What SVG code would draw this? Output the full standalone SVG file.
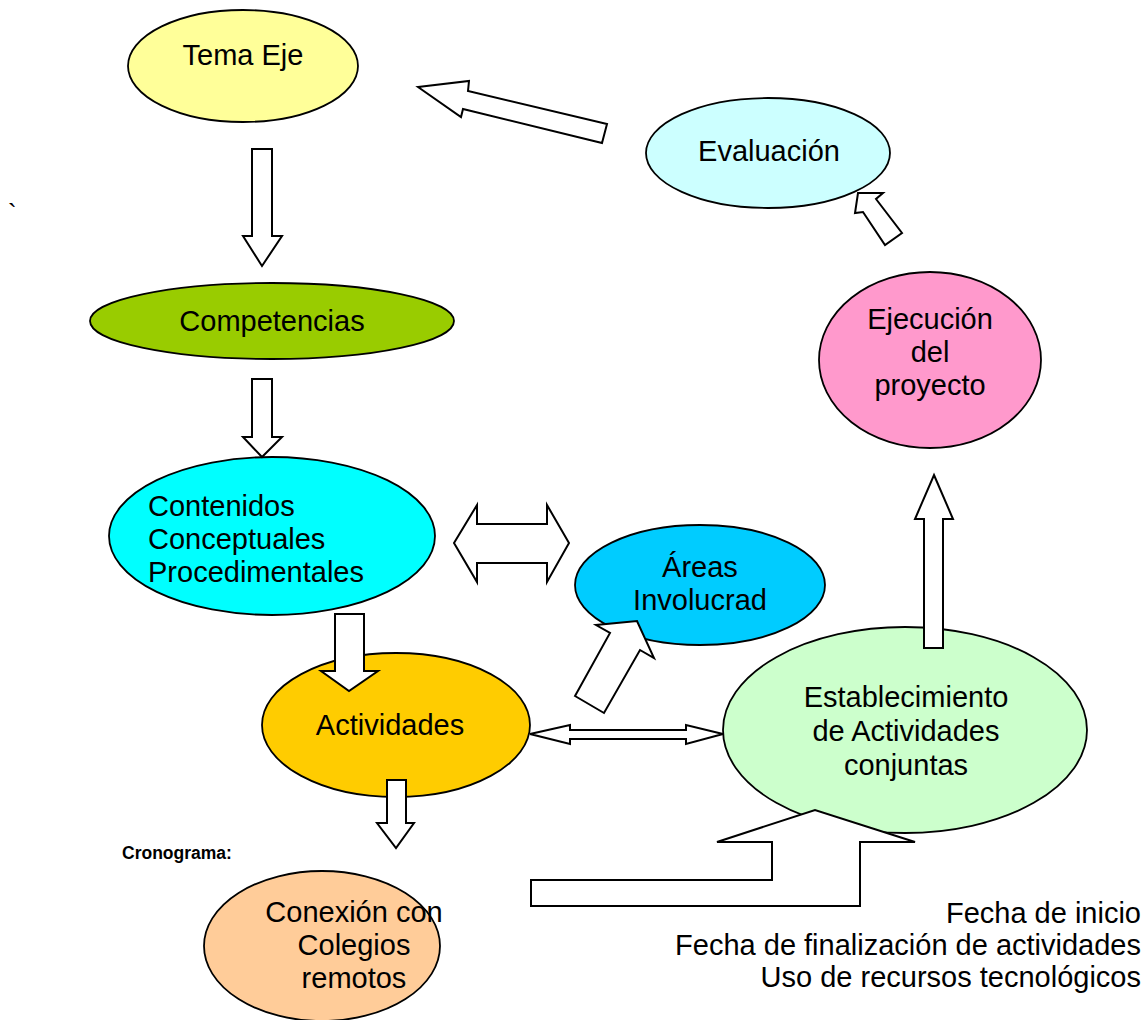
<svg xmlns="http://www.w3.org/2000/svg" width="1147" height="1020" viewBox="0 0 1147 1020">
<style>
.n{stroke:#000;stroke-width:1.8}
.t{font-family:"Liberation Sans",Arial,sans-serif;font-size:29px;fill:#000}
.c{text-anchor:middle}
.a{fill:#fff;stroke:#000;stroke-width:2;stroke-linejoin:miter}
</style>
<rect width="1147" height="1020" fill="#fff"/>
<g id="nodes">
<g id="tema"><ellipse class="n" cx="243" cy="66" rx="115" ry="56" fill="#FFFF99"/><text class="t c" x="243" y="65">Tema Eje</text></g>
<g id="evaluacion"><ellipse class="n" cx="768" cy="153" rx="122" ry="55" fill="#CCFFFF"/><text class="t c" x="769" y="161">Evaluación</text></g>
<g id="competencias"><ellipse class="n" cx="272" cy="321" rx="182" ry="38" fill="#99CC00"/><text class="t c" x="272" y="331">Competencias</text></g>
<g id="ejecucion"><ellipse class="n" cx="930" cy="360" rx="111" ry="88" fill="#FF99CC"/><text class="t c" x="930" y="329">Ejecución</text><text class="t c" x="930" y="362">del</text><text class="t c" x="930" y="395">proyecto</text></g>
<g id="contenidos"><ellipse class="n" cx="272" cy="536" rx="163" ry="79" fill="#00FFFF"/><text class="t" x="148" y="516">Contenidos</text><text class="t" x="148" y="549">Conceptuales</text><text class="t" x="148" y="582">Procedimentales</text></g>
<g id="areas"><ellipse class="n" cx="700" cy="585" rx="125" ry="60" fill="#00CCFF"/><text class="t c" x="700" y="577">Áreas</text><text class="t c" x="700" y="610">Involucrad</text></g>
<g id="actividades"><ellipse class="n" cx="396" cy="725" rx="134" ry="72" fill="#FFCC00"/><text class="t c" x="390" y="735">Actividades</text></g>
<g id="establecimiento"><ellipse class="n" cx="905" cy="730" rx="182" ry="103" fill="#CCFFCC"/><text class="t c" x="906" y="707">Establecimiento</text><text class="t c" x="906" y="741">de Actividades</text><text class="t c" x="906" y="775">conjuntas</text></g>
<g id="conexion"><ellipse class="n" cx="322" cy="946" rx="118" ry="75" fill="#FFCC99"/><text class="t c" x="354" y="922">Conexión con</text><text class="t c" x="354" y="955">Colegios</text><text class="t c" x="354" y="988">remotos</text></g>
</g>
<g id="connectors">
<polygon class="a" points="418,87 469,81 468,91 607,124 602,143 463,109 461,117"/>
<polygon class="a" points="858,193 883,193 876,199 902,233 885,245 863,212 855,213"/>
<polygon class="a" points="252,149 272,149 272,236 282,236 262,266 243,236 252,236"/>
<polygon class="a" points="252,379 272,379 272,437 282,437 262,457 243,437 252,437"/>
<polygon class="a" points="454,543 477,505 477,524 547,524 547,505 569,543 547,582 547,563 477,563 477,582"/>
<polygon class="a" points="335,614 364,614 364,671 378,671 349,691 321,671 335,671"/>
<polygon class="a" points="575,696 610,633 596,625 637,621 654,658 640,650 604,713"/>
<polygon class="a" points="530,734 570,725 570,730 686,730 686,725 723,734 686,744 686,739 570,739 570,744"/>
<polygon class="a" points="387,780 406,780 406,823 414,823 396,848 377,823 387,823"/>
<polygon class="a" points="934,475 953,519 943,519 943,648 924,648 924,519 915,519"/>
<polygon class="a" points="531,880 772,880 772,842 717,842 815,810 915,842 860,842 860,906 531,906"/>
</g>
<text x="8" y="222" style="font-family:'Liberation Sans',Arial,sans-serif;font-size:26px">`</text>
<text x="122" y="859" style="font-family:'Liberation Sans',Arial,sans-serif;font-size:17.5px;font-weight:bold">Cronograma:</text>
<g id="notes">
<text class="t" x="1141" y="923" text-anchor="end">Fecha de inicio</text>
<text class="t" x="1141" y="955" text-anchor="end">Fecha de finalización de actividades</text>
<text class="t" x="1141" y="987" text-anchor="end">Uso de recursos tecnológicos</text>
</g>
</svg>
